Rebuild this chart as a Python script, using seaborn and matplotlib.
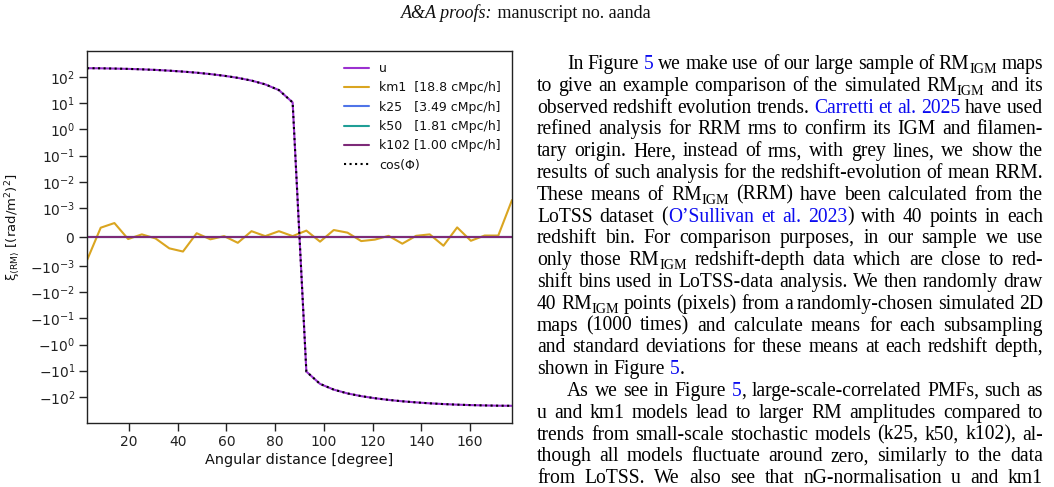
"""
Figura de correlación angular de RM (xi_RM) con el texto de la página.
Reproduce la columna izquierda (gráfica) y la derecha (texto del artículo).
"""

import numpy as np
import pandas as pd
import matplotlib
matplotlib.use('Agg')
import matplotlib.pyplot as plt
from matplotlib.ticker import FixedLocator, NullLocator
import seaborn as sns

# ──────────────────────────────────────────────────────────────────────────────
# DATOS
# ──────────────────────────────────────────────────────────────────────────────
angulo = [2.8125, 8.4375, 14.0625, 19.6875, 25.3125, 30.9375, 36.5625, 42.1875,
          47.8125, 53.4375, 59.0625, 64.6875, 70.3125, 75.9375, 81.5625, 87.1875,
          92.8125, 98.4375, 104.0625, 109.6875, 115.3125, 120.9375, 126.5625,
          132.1875, 137.8125, 143.4375, 149.0625, 154.6875, 160.3125, 165.9375,
          171.5625, 177.1875]

xi_u = [220, 218, 213, 207, 199, 189, 177, 163, 148, 131, 113, 94, 74, 53, 32,
        10.8, -10.8, -32, -53, -74, -94, -113, -131, -148, -163, -177, -189,
        -199, -207, -213, -218, -220]

xi_km1 = [-0.80e-3, 0.32e-3, 0.48e-3, -0.07e-3, 0.09e-3, -0.05e-3, -0.39e-3,
          -0.50e-3, 0.13e-3, -0.08e-3, 0.03e-3, -0.20e-3, 0.20e-3, 0.03e-3,
          0.20e-3, 0.03e-3, 0.22e-3, -0.16e-3, 0.24e-3, 0.15e-3, -0.14e-3,
          -0.09e-3, 0.04e-3, -0.23e-3, 0.04e-3, 0.09e-3, -0.30e-3, 0.33e-3,
          -0.13e-3, 0.05e-3, 0.05e-3, 2.0e-3]

xi_k25 = [0.0, 0.0, 0.0, 0.0, 0.0, 0.0, 0.0, 0.0, 0.0, 0.0, 0.0, 0.0, 0.0, 0.0,
          0.0, 0.0, 0.0, 0.0, 0.0, 0.0, 0.0, 0.0, 0.0, 0.0, 0.0, 0.0, 0.0, 0.0,
          0.0, 0.0, 0.0, 0.0]
xi_k50 = [0.0, 0.0, 0.0, 0.0, 0.0, 0.0, 0.0, 0.0, 0.0, 0.0, 0.0, 0.0, 0.0, 0.0,
          0.0, 0.0, 0.0, 0.0, 0.0, 0.0, 0.0, 0.0, 0.0, 0.0, 0.0, 0.0, 0.0, 0.0,
          0.0, 0.0, 0.0, 0.0]
xi_k102 = [0.0, 0.0, 0.0, 0.0, 0.0, 0.0, 0.0, 0.0, 0.0, 0.0, 0.0, 0.0, 0.0, 0.0,
           0.0, 0.0, 0.0, 0.0, 0.0, 0.0, 0.0, 0.0, 0.0, 0.0, 0.0, 0.0, 0.0, 0.0,
           0.0, 0.0, 0.0, 0.0]

# cos(Phi) escalado a la amplitud de u (se superpone a la curva u)
xi_cos = [220, 218, 213, 207, 199, 189, 177, 163, 148, 131, 113, 94, 74, 53, 32,
          10.8, -10.8, -32, -53, -74, -94, -113, -131, -148, -163, -177, -189,
          -199, -207, -213, -218, -220]

etiquetas = ['u', 'km1  [18.8 cMpc/h]', 'k25   [3.49 cMpc/h]',
             'k50   [1.81 cMpc/h]', 'k102 [1.00 cMpc/h]', 'cos(Φ)']
colores = ['#9b30d0', '#daa520', '#4f74e8', '#1f9e96', '#7d2a78', 'black']

yticks = [-1e2, -1e1, -1e0, -1e-1, -1e-2, -1e-3, 0,
          1e-3, 1e-2, 1e-1, 1e0, 1e1, 1e2]
xticks = [20, 40, 60, 80, 100, 120, 140, 160]

ENCABEZADO_IT = 'A&A proofs:'
ENCABEZADO = ' manuscript no. aanda'

LINEAS = [
    "In Figure [5] we make use of our large sample of RM_{IGM} maps",
    "to give an example comparison of the simulated RM_{IGM} and its",
    "observed redshift evolution trends. [Carretti et al. 2025] have used",
    "refined analysis for RRM rms to confirm its IGM and filamen-",
    "tary origin. Here, instead of rms, with grey lines, we show the",
    "results of such analysis for the redshift-evolution of mean RRM.",
    "These means of RM_{IGM} (RRM) have been calculated from the",
    "LoTSS dataset ([O’Sullivan et al. 2023]) with 40 points in each",
    "redshift bin. For comparison purposes, in our sample we use",
    "only those RM_{IGM} redshift-depth data which are close to red-",
    "shift bins used in LoTSS-data analysis. We then randomly draw",
    "40 RM_{IGM} points (pixels) from a randomly-chosen simulated 2D",
    "maps (1000 times) and calculate means for each subsampling",
    "and standard deviations for these means at each redshift depth,",
    "shown in Figure [5].",
    "As we see in Figure [5], large-scale-correlated PMFs, such as",
    "u and km1 models lead to larger RM amplitudes compared to",
    "trends from small-scale stochastic models (k25, k50, k102), al-",
    "though all models fluctuate around zero, similarly to the data",
    "from LoTSS. We also see that  nG-normalisation u and km1",
]
SANGRIA = {0, 15}
SIN_JUSTIFICAR = {14}

# ──────────────────────────────────────────────────────────────────────────────
# ESTILO
# ──────────────────────────────────────────────────────────────────────────────
sns.set_theme(style='ticks', rc={
    'axes.edgecolor': '#222222',
    'axes.linewidth': 1.0,
    'xtick.major.size': 5.5,
    'ytick.major.size': 5.5,
    'xtick.major.width': 1.0,
    'ytick.major.width': 1.0,
    'xtick.color': '#222222',
    'ytick.color': '#222222',
    'text.color': '#111111',
    'axes.labelcolor': '#111111',
})
plt.rcParams['font.family'] = ['DejaVu Sans']

W, H = 1054, 487
SERIF = 'Liberation Serif'
FS = 14.1
AZUL = '#0b0bf0'

fig = plt.figure(figsize=(W / 100, H / 100), dpi=100)
renderer = fig.canvas.get_renderer()

# ──────────────────────────────────────────────────────────────────────────────
# GRÁFICA
# ──────────────────────────────────────────────────────────────────────────────
ax = fig.add_axes([87 / W, 1 - 423 / H, (512 - 87) / W, (423 - 51) / H])

series = [xi_u, xi_km1, xi_k25, xi_k50, xi_k102, xi_cos]
for vals, lab, col in zip(series, etiquetas, colores):
    df = pd.DataFrame({'ang': angulo, 'xi': vals})
    estilo = ':' if lab.startswith('cos') else '-'
    sns.lineplot(data=df, x='ang', y='xi', ax=ax, color=col, label=lab,
                 linewidth=1.5, linestyle=estilo, estimator=None, sort=False)

ax.set_yscale('symlog', linthresh=1e-3, linscale=1)
ax.set_ylim(-1e3, 1e3)
ax.set_xlim(angulo[0], angulo[-1])
ax.yaxis.set_major_locator(FixedLocator(yticks))
ax.yaxis.set_minor_locator(NullLocator())
ax.set_xticks(xticks)
ax.tick_params(labelsize=10, pad=3)
ax.set_xlabel('Angular distance [degree]', fontsize=10.4, labelpad=3)
ax.set_ylabel(r'ξ$_{\langle\mathrm{RM}\rangle}$ [(rad/m$^2$)$^2$]',
              fontsize=9.5)
ax.yaxis.set_label_coords(-0.15, 0.527)
ax.legend(loc='upper right', frameon=False, fontsize=9)

# ──────────────────────────────────────────────────────────────────────────────
# TEXTO DE LA PÁGINA
# ──────────────────────────────────────────────────────────────────────────────
def fx(px):
    return px / W


def fy(py):
    return 1 - py / H


def parsear(linea):
    """Divide la línea en palabras; cada palabra = [(texto, azul, sub), ...]."""
    palabras, actual, buf = [], [], ''
    azul = sub = False
    i = 0
    while i < len(linea):
        c = linea[i]
        if c in '[]_} ':
            if buf:
                actual.append((buf, azul, sub))
                buf = ''
            if c == '[':
                azul = True
            elif c == ']':
                azul = False
            elif c == '_':
                sub = True
                i += 1
            elif c == '}':
                sub = False
            elif c == ' ':
                if actual:
                    palabras.append(actual)
                actual = []
        else:
            buf += c
        i += 1
    if buf:
        actual.append((buf, azul, sub))
    if actual:
        palabras.append(actual)
    return palabras


def ancho(t):
    return t.get_window_extent(renderer).width


X_IZQ, X_DER = 537, 1043
Y0, DY = 69.0, 21.8
espacio = ancho(fig.text(0, 0, 'a a', fontsize=FS, family=SERIF)) - \
    ancho(fig.text(0, 0, 'aa', fontsize=FS, family=SERIF))
for t in list(fig.texts):
    t.remove()

for n, linea in enumerate(LINEAS):
    y = Y0 + n * DY
    palabras = parsear(linea)
    objetos, anchos = [], []
    for pal in palabras:
        segs = []
        for txt, azul, sub in pal:
            t = fig.text(0, 0, txt, family=SERIF,
                         fontsize=FS * 0.72 if sub else FS,
                         color=AZUL if azul else 'black', va='baseline')
            segs.append((t, ancho(t), sub))
        objetos.append(segs)
        anchos.append(sum(s[1] for s in segs))
    x0 = X_IZQ + (30 if n in SANGRIA else 0)
    if n in SIN_JUSTIFICAR or len(palabras) < 2:
        hueco = espacio
    else:
        hueco = (X_DER - x0 - sum(anchos)) / (len(palabras) - 1)
    x = x0
    for segs, w in zip(objetos, anchos):
        xs = x
        for t, ws, sub in segs:
            t.set_position((fx(xs), fy(y + (4 if sub else 0))))
            xs += ws
        x += w + hueco

# encabezado
t_it = fig.text(0, 0, ENCABEZADO_IT, family=SERIF, style='italic',
                fontsize=13, va='baseline')
t_rm = fig.text(0, 0, ENCABEZADO, family=SERIF, fontsize=13, va='baseline')
w_it, w_rm = ancho(t_it), ancho(t_rm)
xc = 526 - (w_it + w_rm) / 2
t_it.set_position((fx(xc), fy(18.5)))
t_rm.set_position((fx(xc + w_it), fy(18.5)))

fig.savefig('out.png', dpi=100)
plt.close(fig)
